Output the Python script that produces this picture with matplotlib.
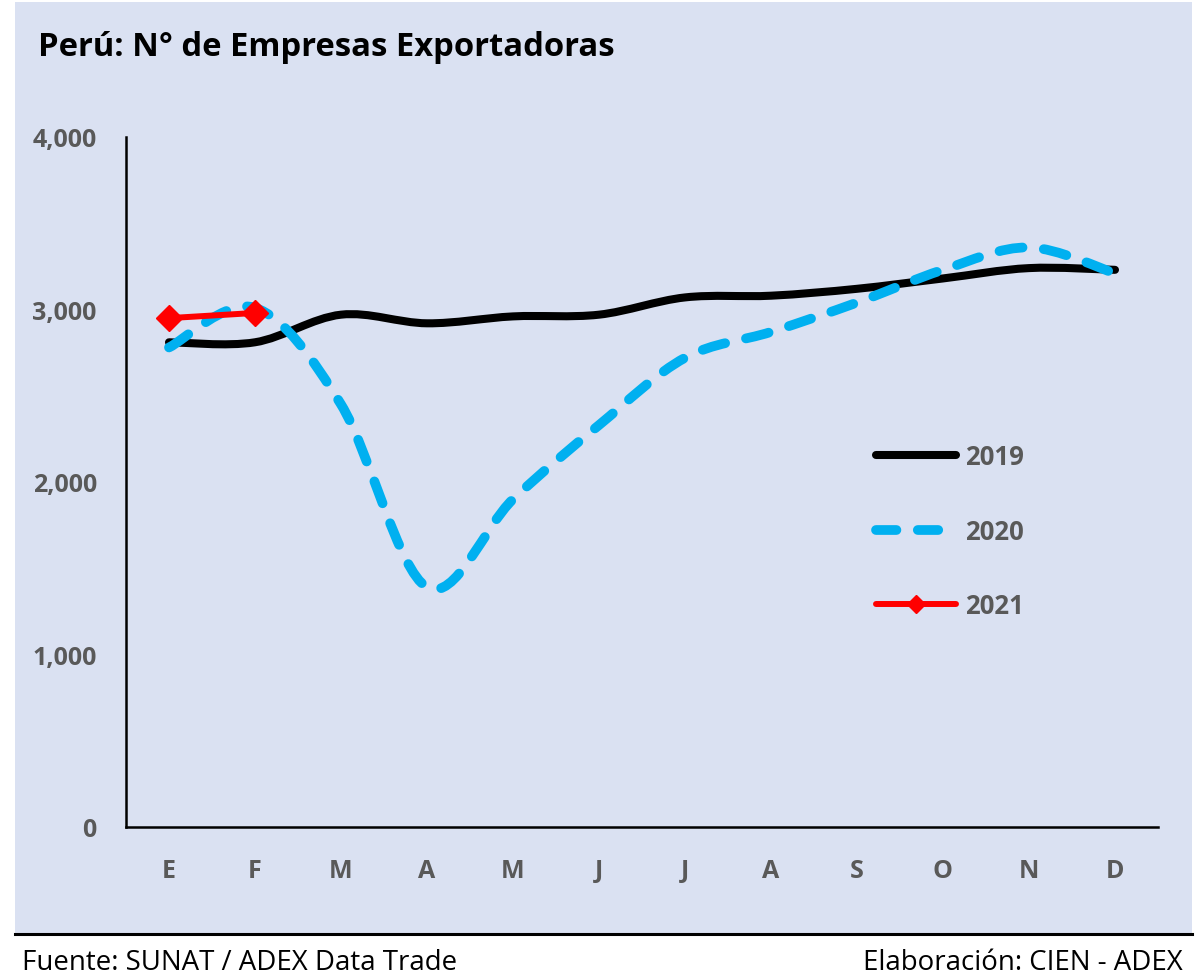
import numpy as np
import matplotlib.pyplot as plt
from matplotlib.path import Path
from matplotlib.patches import PathPatch, Rectangle
from matplotlib.lines import Line2D

plt.rcParams['font.family'] = ['Open Sans', 'DejaVu Sans']

meses = ['E', 'F', 'M', 'A', 'M', 'J', 'J', 'A', 'S', 'O', 'N', 'D']
emp_2019 = [2810, 2810, 2970, 2920, 2960, 2970, 3070, 3080, 3120, 3180, 3240, 3230]
emp_2020 = [2780, 3010, 2450, 1390, 1900, 2330, 2720, 2870, 3040, 3230, 3360, 3210]
emp_2021 = [2950, 2980]
y_ticks = [0, 1000, 2000, 3000, 4000]

bg = '#DAE1F2'
gris = '#595959'


def smooth_path(xs, ys):
    # bezier like excel's smoothed line
    pts = np.column_stack([xs, ys]).astype(float)
    n = len(pts)
    verts = [pts[0]]
    codes = [Path.MOVETO]
    for i in range(n - 1):
        p0 = pts[max(i - 1, 0)]
        p1 = pts[i]
        p2 = pts[i + 1]
        p3 = pts[min(i + 2, n - 1)]
        c1 = p1 + (p2 - p0) / 6.0
        c2 = p2 - (p3 - p1) / 6.0
        verts += [c1, c2, p2]
        codes += [Path.CURVE4] * 3
    return Path(verts, codes)


fig = plt.figure(figsize=(11.95, 9.78), dpi=100)
fig.patch.set_facecolor('white')
W, H = 1195, 978
fig.add_artist(Rectangle((15 / W, 1 - 935 / H), 1177 / W, 932 / H,
                         transform=fig.transFigure, facecolor=bg,
                         edgecolor='none', zorder=-10))
fig.add_artist(Line2D([15 / W, 1192 / W], [1 - 935 / H, 1 - 935 / H],
                      transform=fig.transFigure, color='black', lw=2.2))

ax = fig.add_axes([126 / W, 1 - 828 / H, (1158 - 126) / W, (828 - 138) / H])
ax.set_zorder(5)
ax.patch.set_alpha(0)

x = np.arange(len(meses))
ax.add_patch(PathPatch(smooth_path(x, emp_2019), fill=False, edgecolor='black',
                       lw=5.8, capstyle='round', joinstyle='round', zorder=3))
ax.add_patch(PathPatch(smooth_path(x, emp_2020), fill=False, edgecolor='#00B0F0',
                       lw=7, linestyle=(0, (2.4, 2.2)), capstyle='round',
                       joinstyle='round', zorder=4))
ax.plot(x[:len(emp_2021)], emp_2021, color='#FF0000', lw=4.3, marker='D',
        markersize=13, solid_capstyle='round', zorder=5)

ax.set_xlim(-0.5, 11.5)
ax.set_ylim(0, 4000)
ax.set_xticks(x)
ax.set_xticklabels(meses)
ax.set_yticks(y_ticks)
ax.set_yticklabels([f'{v:,}' for v in y_ticks])
ax.tick_params(length=0, labelsize=18, labelcolor=gris)
ax.tick_params(axis='y', pad=21)
ax.tick_params(axis='x', pad=22)
for lab in ax.get_xticklabels() + ax.get_yticklabels():
    lab.set_fontweight('bold')
for s in ['top', 'right']:
    ax.spines[s].set_visible(False)
for s in ['left', 'bottom']:
    ax.spines[s].set_linewidth(1.8)

handles = [
    Line2D([], [], color='black', lw=5.8, solid_capstyle='round'),
    Line2D([], [], color='#00B0F0', lw=7, linestyle=(0, (2.1, 2.2)), dash_capstyle='round'),
    Line2D([], [], color='#FF0000', lw=4.3, marker='D', markersize=9, solid_capstyle='round'),
]
leg = ax.legend(handles, ['2019', '2020', '2021'], loc='upper left',
                bbox_to_anchor=((853 - 126) / (1158 - 126), (828 - 421) / (828 - 138)),
                frameon=False, handlelength=3.1, handletextpad=0.38,
                labelspacing=1.85, prop={'size': 18.5, 'weight': 'bold'})
for t in leg.get_texts():
    t.set_color(gris)

fig.text(38 / W, 1 - 47 / H, 'Perú: N° de Empresas Exportadoras', fontsize=23.6,
         fontweight='bold', color='black', va='center', ha='left')
fig.text(22 / W, 1 - 963 / H, 'Fuente: SUNAT / ADEX Data Trade', fontsize=19.9,
         color='black', va='center', ha='left')
fig.text(1183 / W, 1 - 963 / H, 'Elaboración: CIEN - ADEX', fontsize=19.9,
         color='black', va='center', ha='right')

fig.savefig('out.png', dpi=100, facecolor=fig.get_facecolor())
